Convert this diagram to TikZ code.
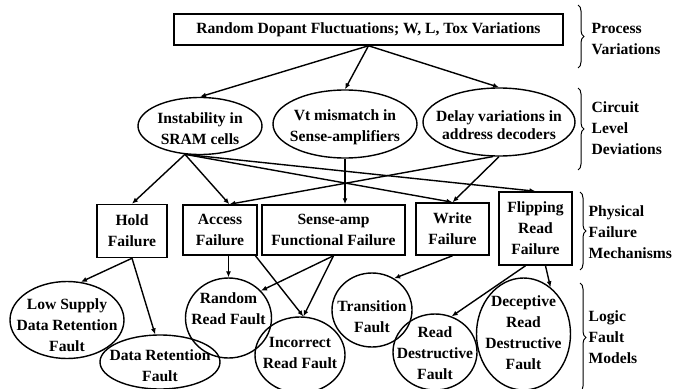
\documentclass[tikz,border=0pt]{standalone}
\usepackage{fontspec}
\setmainfont{Liberation Serif}
\usetikzlibrary{shapes.geometric,arrows.meta,decorations.pathreplacing}

\begin{document}
\begin{tikzpicture}
	[x=1pt,y=-1pt,line width=1.4pt,
	every node/.style={font=\bfseries\fontsize{15.6}{21}\selectfont,
		align=center, inner sep=0pt},
	box/.style={draw, rectangle, line width=1.5pt},
	oval/.style={draw, ellipse, line width=1.4pt},
	arr/.style={-{Latex[length=6pt,width=5pt]}},
	brc/.style={decorate, decoration={brace, amplitude=6pt}, line width=1pt}]

	\useasboundingbox (0,0) rectangle (679,388);

	\node[box, minimum width=389, minimum height=31] (top) at (368.5,29.5)
		{Random Dopant Fluctuations; W, L, Tox Variations};

	%% circuit level
	\node[oval, minimum width=124, minimum height=57] (e1) at (200,126) {};
	\node[oval, minimum width=144, minimum height=68] (e2) at (345,124) {};
	\node[oval, minimum width=152, minimum height=68] (e3) at (499,122) {};
	\node (e1t) at (200,129) {Instability in\\SRAM cells};
	\node (e2t) at (345,127) {Vt mismatch in\\Sense-amplifiers};
	\node[font=\bfseries\fontsize{15.6}{18.5}\selectfont] (e3t) at (499,125)
		{Delay variations in\\address decoders};

	%% physical failures
	\node[box, minimum width=70, minimum height=53] (hold) at (132,231)
		{Hold\\Failure};
	\node[box, minimum width=74, minimum height=50] (access) at (220,230)
		{Access\\Failure};
	\node[box, minimum width=143, minimum height=50] (sense) at (333.5,230)
		{Sense-amp\\Functional Failure};
	\node[box, minimum width=73, minimum height=52] (write) at (452.5,229)
		{Write\\Failure};
	\node[box, minimum width=73, minimum height=73] (flip) at (535.5,228.5)
		{Flipping\\Read\\Failure};

	%% fault models
	\node[oval, minimum width=114, minimum height=77] (low) at (67,320) {};
	\node[oval, minimum width=120, minimum height=54] (dr) at (160,362) {};
	\node[oval, minimum width=86, minimum height=80] (rrf) at (228.5,318) {};
	\node[oval, minimum width=90, minimum height=76] (irf) at (300,355) {};
	\node[oval, minimum width=80, minimum height=74] (trans) at (372,310) {};
	\node[oval, minimum width=84, minimum height=76] (rdf) at (435,352) {};
	\node[oval, minimum width=94, minimum height=112] (drdf) at (523.5,334) {};
	\node (lowt) at (67,325) {Low Supply\\Data Retention\\Fault};
	\node (drt) at (160,366) {Data Retention\\Fault};
	\node (rrft) at (228.5,309) {Random\\Read Fault};
	\node (irft) at (300,353) {Incorrect\\Read Fault};
	\node (transt) at (372,317) {Transition\\Fault};
	\node (rdft) at (435,353) {Read\\Destructive\\Fault};
	\node (drdft) at (523.5,333) {Deceptive\\Read\\Destructive\\Fault};

	%% levels
	\node[anchor=west, align=left] (lproc) at (591,39.5) {Process\\Variations};
	\node[anchor=west, align=left] (lcirc) at (591,128) {Circuit\\Level\\Deviations};
	\node[anchor=west, align=left] (lphys) at (588,232.5) {Physical\\Failure\\Mechanisms};
	\node[anchor=west, align=left] (llog) at (588,337) {Logic\\Fault\\Models};

	\draw[brc] (578,5) -- (578,68);
	\draw[brc] (578,88) -- (578,170);
	\draw[brc] (580,192) -- (580,270);
	\draw[brc] (580,283) -- (580,392);

	\foreach \from/\to in {top.south/e1.north,top.south/e2.north,top.south/e3.north}
	\draw[arr] (\from) -- (\to);

	\foreach \from/\to in {e1.-118/hold.north,e1.-118/access.70,
	e1.-118/write.north,e1.-118/flip.north,
	e3.-100/access.70,e3.south/write.north}
	\draw[arr] (\from) -- (\to);

	\draw[arr] (e2.south) -- (e2.south |- sense.north);

	\foreach \from/\to in {hold.south/low.70,hold.south/dr.100,
	access.-36/irf.85,sense.south/rrf.40,sense.south/irf.85,
	write.south/trans.55,flip.-105/rdf.65,flip.-75/drdf.60}
	\draw[arr] (\from) -- (\to);

	\draw[arr] (rrf.north |- access.south) -- (rrf.north);
\end{tikzpicture}
\end{document}
